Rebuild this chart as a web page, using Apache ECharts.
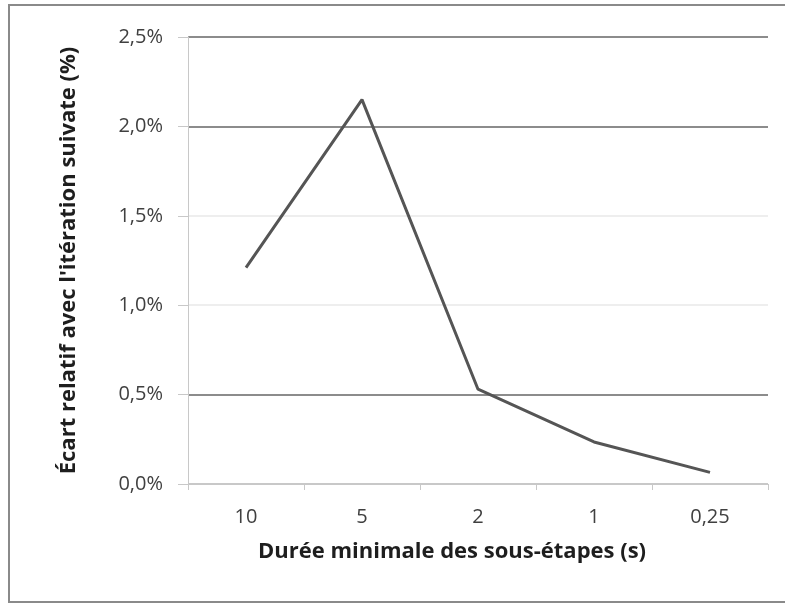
<!DOCTYPE html>
<html>
<head>
<meta charset="utf-8">
<script src="https://cdn.jsdelivr.net/npm/echarts@6/dist/echarts.min.js"></script>
<style>html,body{margin:0;padding:0;background:#fff}#c{width:785px;height:605px}</style>
</head>
<body>
<div id="c"></div>
<script>
const categories = ['10', '5', '2', '1', '0,25'];
const values = [1.21, 2.15, 0.53, 0.235, 0.065];
const yTicks = [0, 0.5, 1.0, 1.5, 2.0, 2.5];
const yTitle = "Écart relatif avec l'itération suivate (%)";
const xTitle = 'Durée minimale des sous-étapes (s)';

const chart = echarts.init(document.getElementById('c'), null, {renderer: 'canvas'});
const font = 'Open Sans';
chart.setOption({
  animation: false,
  backgroundColor: '#fff',
  graphic: [{
    type: 'rect', silent: true,
    shape: {x: 9, y: 5, width: 790, height: 597},
    style: {fill: 'none', stroke: '#8a8a8a', lineWidth: 2}
  }],
  grid: {left: 188, right: 17, top: 37, bottom: 121, containLabel: false},
  xAxis: {
    type: 'category',
    data: categories,
    boundaryGap: true,
    name: xTitle,
    nameLocation: 'middle',
    nameGap: 57,
    nameTextStyle: {fontFamily: font, fontSize: 22, fontWeight: 'bold', color: '#1e1e1e', padding: [0, 52, 0, 0]},
    axisLine: {show: true, lineStyle: {color: '#c8c8c8', width: 1}},
    axisTick: {show: true, alignWithLabel: false, length: 6, lineStyle: {color: '#c8c8c8'}},
    axisLabel: {fontFamily: font, fontSize: 20, color: '#404040', margin: 23},
    splitLine: {show: false}
  },
  yAxis: {
    type: 'value',
    min: 0, max: 2.5, interval: 0.5,
    name: yTitle,
    nameLocation: 'middle',
    nameGap: 108,
    nameRotate: 90,
    nameTextStyle: {fontFamily: font, fontSize: 22, fontWeight: 'bold', color: '#1e1e1e'},
    axisLine: {show: true, lineStyle: {color: '#c8c8c8', width: 1}},
    axisTick: {show: true, inside: false, length: 10, lineStyle: {color: '#c8c8c8'}},
    axisLabel: {
      fontFamily: font, fontSize: 20, color: '#404040', margin: 25,
      formatter: v => v.toFixed(1).replace('.', ',') + '%'
    },
    splitLine: {show: true, lineStyle: {color: ['#c8c8c8', '#8c8c8c', '#eeeeee', '#eeeeee', '#8c8c8c', '#8c8c8c'], width: 2}}
  },
  series: [{
    type: 'line',
    data: values,
    symbol: 'none',
    lineStyle: {color: '#555555', width: 3},
    z: 5
  }]
});
</script>
</body>
</html>
